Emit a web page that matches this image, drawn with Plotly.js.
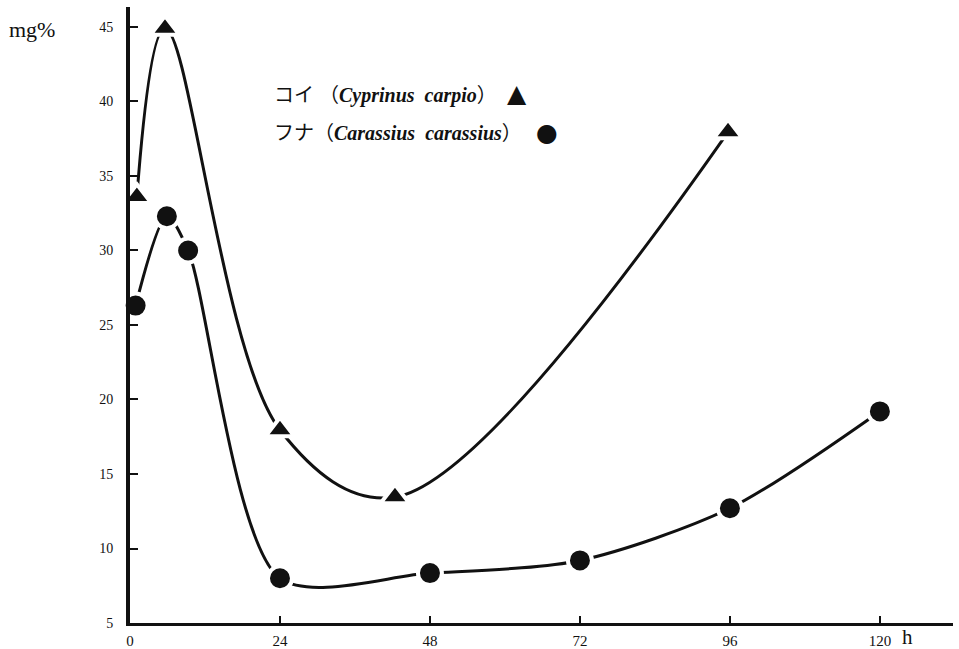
<!DOCTYPE html>
<html>
<head>
<meta charset="utf-8">
<script src="https://cdn.plot.ly/plotly-3.0.1.min.js"></script>
<style>html,body{margin:0;padding:0;background:#fff;}#chart{width:959px;height:649px;}</style>
</head>
<body>
<div id="chart"></div>
<script>
// Data (hours vs mg%)
const carpHours = [1.1, 5.6, 24, 42.4, 95.7];
const carpValues = [33.6, 44.9, 17.95, 13.45, 37.95];
const crucianHours = [0.9, 5.9, 9.3, 24, 48, 72, 96, 120];
const crucianValues = [26.3, 32.3, 30.0, 8.0, 8.35, 9.2, 12.7, 19.2];
const xTicks = [0, 24, 48, 72, 96, 120];
const yTicks = [5, 10, 15, 20, 25, 30, 35, 40, 45];
const carpLabel = 'コイ （<b><i>Cyprinus  carpio</i></b>）';
const crucianLabel = 'フナ（<b><i>Carassius  carassius</i></b>）';

const serif = 'Liberation Serif, Times New Roman, serif';
const jpFont = 'Liberation Serif, Noto Sans CJK JP, serif';

const traces = [
  {
    x: carpHours, y: carpValues, type: 'scatter', mode: 'lines+markers',
    line: {shape: 'spline', smoothing: 1.0, color: '#111', width: 3},
    marker: {symbol: 'triangle-up', size: 25, color: '#111', line: {color: '#fff', width: 4}},
    cliponaxis: false, showlegend: false
  },
  {
    x: crucianHours, y: crucianValues, type: 'scatter', mode: 'lines+markers',
    line: {shape: 'spline', smoothing: 0.8, color: '#111', width: 3},
    marker: {symbol: 'circle', size: 24, color: '#111', line: {color: '#fff', width: 4}},
    cliponaxis: false, showlegend: false
  }
];

const layout = {
  width: 959, height: 649,
  margin: {l: 130, r: 6, t: 7, b: 26, pad: 0},
  paper_bgcolor: '#fff', plot_bgcolor: '#fff',
  showlegend: false,
  xaxis: {
    range: [0, 131.7], tickvals: xTicks, ticktext: xTicks.map(String),
    ticks: 'inside', ticklen: 7, tickwidth: 2, tickcolor: '#111',
    showline: true, linecolor: '#111', linewidth: 3,
    showgrid: false, zeroline: false, automargin: false,
    tickfont: {family: serif, size: 15, color: '#111'}, ticklabelstandoff: 2
  },
  yaxis: {
    range: [5, 46.34], tickvals: yTicks, ticktext: yTicks.map(String),
    ticks: 'inside', ticklen: 8, tickwidth: 2, tickcolor: '#111',
    showline: true, linecolor: '#111', linewidth: 4,
    showgrid: false, zeroline: false, automargin: false,
    tickfont: {family: serif, size: 14, color: '#111'}, ticklabelstandoff: 10
  },
  annotations: [
    {text: 'mg%', xref: 'paper', yref: 'paper', x: -0.150, y: 0.963, xanchor: 'left', yanchor: 'middle',
     showarrow: false, font: {family: serif, size: 22, color: '#111'}},
    {text: 'h', xref: 'paper', yref: 'paper', x: 0.935, y: -0.022, xanchor: 'left', yanchor: 'middle',
     showarrow: false, font: {family: serif, size: 21, color: '#111'}},
    {text: carpLabel, xref: 'paper', yref: 'paper', x: 0.172, y: 0.857, xanchor: 'left', yanchor: 'middle',
     showarrow: false, font: {family: jpFont, size: 20, color: '#111'}},
    {text: crucianLabel, xref: 'paper', yref: 'paper', x: 0.172, y: 0.795, xanchor: 'left', yanchor: 'middle',
     showarrow: false, font: {family: jpFont, size: 20, color: '#111'}},
    {text: '▲', xref: 'paper', yref: 'paper', x: 0.4705, y: 0.859, xanchor: 'center', yanchor: 'middle',
     showarrow: false, font: {family: 'DejaVu Sans', size: 25, color: '#111'}},
    {text: '●', xref: 'paper', yref: 'paper', x: 0.507, y: 0.797, xanchor: 'center', yanchor: 'middle',
     showarrow: false, font: {family: 'DejaVu Sans', size: 25, color: '#111'}}
  ]
};

Plotly.newPlot('chart', traces, layout, {staticPlot: true, displayModeBar: false});
</script>
</body>
</html>
